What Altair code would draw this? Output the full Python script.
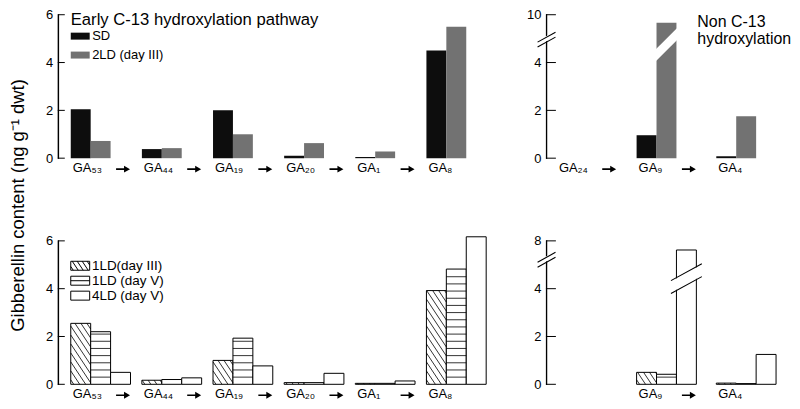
import altair as alt
import pandas as pd

FONT = "Liberation Sans"

# ---------------- data ----------------
early_groups = ["GA₅₃", "GA₄₄", "GA₁₉", "GA₂₀", "GA₁", "GA₈"]
late_groups = ["GA₂₄", "GA₉", "GA₄"]
late_bar_groups = ["GA₉", "GA₄"]

top_series = ["SD", "2LD (day III)"]
top_colors = ["#0d0d0d", "#727272"]
bottom_series = ["1LD(day III)", "1LD (day V)", "4LD (day V)"]

sd_early = [2.05, 0.38, 2.0, 0.10, 0.05, 4.5]
ld2_early = [0.72, 0.42, 1.0, 0.63, 0.28, 5.5]
sd_late = [0.96, 0.08]
ld2_late = [8.33, 1.75]

ld1_iii_early = [2.55, 0.17, 1.0, 0.07, 0.04, 3.92]
ld1_v_early = [2.2, 0.2, 1.93, 0.07, 0.04, 4.82]
ld4_v_early = [0.5, 0.27, 0.77, 0.46, 0.14, 6.17]
ld1_iii_late = [0.5, 0.05]
ld1_v_late = [0.42, 0.03]
ld4_v_late = [6.6, 1.25]

left_ticks = [0, 2, 4, 6]
top_right_ticks = [0, 2, 4, 10]
bottom_right_ticks = [0, 2, 4, 8]
top_right_domain = [0, 5, 10]        # broken axis
bottom_right_domain = [0, 5.25, 8]   # broken axis
top_right_axis_break = [5.0]
bottom_right_axis_break = [5.25]
top_right_bar_break = [4.75]
bottom_right_bar_break = [4.42]
axis_center = [3.0]                  # value at the vertical middle of every panel

arrows_early = ["GA₅₃", "GA₄₄", "GA₁₉", "GA₂₀", "GA₁"]
arrows_top_late = ["GA₂₄", "GA₉"]
arrows_bottom_late = ["GA₉"]

top_title = "Early C-13 hydroxylation pathway"
right_title = ["Non C-13", "hydroxylation"]
y_title = "Gibberellin content (ng g⁻¹ dwt)"

# ---------------- layout / style ----------------
H = 144
W_L, W_R = 443, 242
PX = 24.0      # px per data unit in linear part (hatch tile sizing)
BAR_W = 20.0
ARROW = "M-6.5,-0.85L1.5,-0.85L1.5,-3.5L7.5,0L1.5,3.5L1.5,0.85L-6.5,0.85Z"
AXIS_LINE = "M0,-72.5L1.3,-72.5L1.3,72.5L0,72.5Z"


def long_df(groups, series, arrays):
    rows = []
    for s, vals in zip(series, arrays):
        for g, v in zip(groups, vals):
            rows.append({"group": g, "series": s, "value": v})
    return pd.DataFrame(rows)


def hatch_path(w, h, kind, d=6.0, slope=1.5, sh=7.2):
    hw, hh = w / 2.0, h / 2.0
    parts = []
    if kind == "diag":
        c = -hw - hh / slope + d / 2
        while c < hw + hh / slope:
            x0 = max(-hw, c - hh / slope)
            x1 = min(hw, c + hh / slope)
            if x1 - x0 > 0.4:
                parts.append(f"M{x0:.2f},{slope*(x0-c):.2f}L{x1:.2f},{slope*(x1-c):.2f}")
            c += d
    else:
        y = hh - sh
        while y > -hh + 1.0:
            parts.append(f"M{-hw:.2f},{y:.2f}L{hw:.2f},{y:.2f}")
            y -= sh
    return "".join(parts)


def hatch_df(df):
    rows = []
    kinds = {bottom_series[0]: "diag", bottom_series[1]: "horiz"}
    for _, r in df.iterrows():
        if r["series"] in kinds:
            p = hatch_path(BAR_W, r["value"] * PX, kinds[r["series"]])
            if p:
                rows.append({"group": r["group"], "series": r["series"],
                             "mid": r["value"] / 2.0, "path": p})
    return pd.DataFrame(rows)


def x_enc(groups, pi, po, hide=None):
    ax = dict(title=None, domain=False, ticks=False, tickSize=0, labelAngle=0,
              labelAlign="left", labelOffset=-28, labelPadding=3, labelFontSize=13,
              labelColor="black", labelFont=FONT)
    if hide:
        ax["labelExpr"] = f"datum.value == '{hide}' ? '' : datum.label"
    return alt.X("group:N", scale=alt.Scale(domain=groups, paddingInner=pi, paddingOuter=po),
                 axis=alt.Axis(**ax))


def xo_enc(domain):
    return alt.XOffset("series:N", scale=alt.Scale(domain=domain, paddingInner=0, paddingOuter=0))


def y_axis(ticks, title=False):
    kw = dict(values=ticks, grid=False, ticks=False, tickSize=0, domain=True,
              domainColor="black", domainWidth=1, domainOpacity=1,
              labelFontSize=13, labelPadding=5, labelColor="black", labelFont=FONT)
    if title:
        kw.update(title=y_title, titleX=-40, titleY=-36, titleAngle=270, titleAlign="center",
                  titleBaseline="middle", titleFontSize=18.5, titleFontWeight="normal",
                  titleColor="black", titleFont=FONT)
    else:
        kw["title"] = None
    return alt.Axis(**kw)


class Panel:
    def __init__(self, X, XO, ys, yax):
        self.X, self.XO, self.ys, self.yax = X, XO, ys, yax

    def Y(self, field):
        return alt.Y(field, scale=self.ys, axis=self.yax)


def axis_line_layer(p):
    return alt.Chart(pd.DataFrame({"value": axis_center})).mark_point(
        shape=AXIS_LINE, size=4, filled=True, color="black", strokeWidth=0, opacity=1).encode(
        x=alt.value(0), y=p.Y("value:Q"))


def tick_layer(p, ticks, length):
    return alt.Chart(pd.DataFrame({"value": ticks})).mark_rule(color="black", strokeWidth=1).encode(
        y=p.Y("value:Q"), x=alt.value(0), x2=alt.value(length))


def arrow_layer(p, groups):
    return alt.Chart(pd.DataFrame({"group": groups})).mark_point(
        shape=ARROW, size=4, filled=True, color="black", opacity=1, xOffset=22).encode(
        x=p.X, y=alt.value(H + 11))


AXIS_BREAK_BAND = "M-6.5,3.6L6.5,-3.6"
AXIS_BREAK_LINES = "M-9,3.5L9,-6.5M-9,8.5L9,-1.5"


def axis_break_layers(p, vals):
    d = pd.DataFrame({"value": vals})
    band = alt.Chart(d).mark_point(shape=AXIS_BREAK_BAND, size=4, filled=False, color="white",
                                   strokeWidth=4.5, opacity=1).encode(
        x=alt.value(0.6), y=p.Y("value:Q"))
    lines = alt.Chart(d).mark_point(shape=AXIS_BREAK_LINES, size=4, filled=False, color="black",
                                    strokeWidth=1.1, opacity=1).encode(
        x=alt.value(0.6), y=p.Y("value:Q"))
    return [band, lines]


# ---------------- top-left ----------------
top_slots = top_series + ["_"]
df_tl = long_df(early_groups, top_series, [sd_early, ld2_early])
X_L = x_enc(early_groups, 0.16, 0.182)
p_tl = Panel(X_L, xo_enc(top_slots), alt.Scale(domain=[0, 6], nice=False, zero=False),
             y_axis(left_ticks))

bars_tl = alt.Chart(df_tl).mark_bar().encode(
    x=p_tl.X, xOffset=p_tl.XO, y=p_tl.Y("value:Q"),
    fill=alt.Fill("series:N", scale=alt.Scale(domain=top_series, range=top_colors),
                  legend=alt.Legend(orient="none", legendX=13, legendY=15, title=None,
                                    symbolType="M-9.5,-3.5L9.5,-3.5L9.5,3.5L-9.5,3.5Z",
                                    symbolSize=4, symbolStrokeWidth=0, symbolOffset=3,
                                    labelOffset=5.5, labelFontSize=13, labelFont=FONT,
                                    labelColor="black", rowPadding=5)))
title_tl = alt.Chart(pd.DataFrame({"t": [top_title]})).mark_text(
    align="left", baseline="middle", fontSize=16.7, color="black").encode(
    text="t:N", x=alt.value(13), y=alt.value(5))

tl = alt.layer(bars_tl, tick_layer(p_tl, left_ticks, 7), title_tl,
               arrow_layer(p_tl, arrows_early), axis_line_layer(p_tl)).properties(
    width=W_L, height=H)

# ---------------- top-right ----------------
df_tr = long_df(late_bar_groups, top_series, [sd_late, ld2_late])
p_tr = Panel(x_enc(late_groups, 0.25, 0.1375), xo_enc(top_slots),
             alt.Scale(domain=top_right_domain, range=[H, 24, 0], nice=False, zero=False),
             y_axis(top_right_ticks))

bars_tr = alt.Chart(df_tr).mark_bar().encode(
    x=p_tr.X, xOffset=p_tr.XO, y=p_tr.Y("value:Q"),
    fill=alt.Fill("series:N", scale=alt.Scale(domain=top_series, range=top_colors), legend=None))
bar_break_tr = alt.Chart(pd.DataFrame({"group": ["GA₉"], "series": [top_series[1]],
                                       "value": top_right_bar_break})).mark_point(
    shape="M-16,16L16,-16", size=4, filled=False, color="white", strokeWidth=8.5, opacity=1).encode(
    x=p_tr.X, xOffset=p_tr.XO, y=p_tr.Y("value:Q"))
title_tr = alt.Chart(pd.DataFrame({"t": ["x"]})).mark_text(
    text=right_title, align="left", baseline="top", fontSize=16, lineHeight=17,
    color="black").encode(x=alt.value(152), y=alt.value(-1))

tr = alt.layer(bars_tr, bar_break_tr, tick_layer(p_tr, top_right_ticks, 10),
               axis_line_layer(p_tr), *axis_break_layers(p_tr, top_right_axis_break),
               title_tr, arrow_layer(p_tr, arrows_top_late)).properties(width=W_R, height=H)

# ---------------- bottom-left ----------------
df_bl = long_df(early_groups, bottom_series, [ld1_iii_early, ld1_v_early, ld4_v_early])
XO_B = xo_enc(bottom_series)
p_bl = Panel(X_L, XO_B, alt.Scale(domain=[0, 6], nice=False, zero=False),
             y_axis(left_ticks, title=True))

bars_bl = alt.Chart(df_bl).mark_bar(fill="white", stroke="black", strokeWidth=1).encode(
    x=p_bl.X, xOffset=p_bl.XO, y=p_bl.Y("value:Q"))
hatch_bl = alt.Chart(hatch_df(df_bl)).mark_point(
    size=4, filled=False, color="black", strokeWidth=0.8, opacity=1).encode(
    x=p_bl.X, xOffset=p_bl.XO, y=p_bl.Y("mid:Q"),
    shape=alt.Shape("path:N", scale=None))

SW = "M-9.5,-4.5L9.5,-4.5L9.5,4.5L-9.5,4.5Z"
legend_paths = [SW + hatch_path(19, 9, "diag", d=5.0, slope=1.5),
                SW + hatch_path(19, 9, "horiz", sh=4.5),
                SW]
legend_bl = alt.Chart(df_bl).mark_point(
    filled=False, color="black", strokeWidth=1, opacity=0).encode(
    x=p_bl.X, xOffset=p_bl.XO, y=p_bl.Y("value:Q"),
    shape=alt.Shape("series:N", scale=alt.Scale(domain=bottom_series, range=legend_paths),
                    legend=alt.Legend(orient="none", legendX=13, legendY=18.25, title=None,
                                      symbolSize=4, symbolStrokeWidth=1,
                                      symbolStrokeColor="black", symbolOpacity=1,
                                      symbolOffset=2.75, labelOffset=5, labelFontSize=13.5,
                                      labelFont=FONT, labelColor="black", rowPadding=0)))

bl = alt.layer(bars_bl, hatch_bl, legend_bl, tick_layer(p_bl, left_ticks, 7),
               arrow_layer(p_bl, arrows_early), axis_line_layer(p_bl)).resolve_scale(
    shape="independent").properties(width=W_L, height=H)

# ---------------- bottom-right ----------------
df_br = long_df(late_bar_groups, bottom_series, [ld1_iii_late, ld1_v_late, ld4_v_late])
p_br = Panel(x_enc(late_groups, 0.25, 0.1375, hide="GA₂₄"), XO_B,
             alt.Scale(domain=bottom_right_domain, range=[H, 18, 0], nice=False, zero=False),
             y_axis(bottom_right_ticks))

bars_br = alt.Chart(df_br).mark_bar(fill="white", stroke="black", strokeWidth=1).encode(
    x=p_br.X, xOffset=p_br.XO, y=p_br.Y("value:Q"))
hatch_br = alt.Chart(hatch_df(df_br)).mark_point(
    size=4, filled=False, color="black", strokeWidth=0.8, opacity=1).encode(
    x=p_br.X, xOffset=p_br.XO, y=p_br.Y("mid:Q"),
    shape=alt.Shape("path:N", scale=None))
bb_df = pd.DataFrame({"group": ["GA₉"], "series": [bottom_series[2]],
                      "value": bottom_right_bar_break})
bar_break_br_band = alt.Chart(bb_df).mark_point(
    shape="M-15.5,8.5L15.5,-8.5", size=4, filled=False, color="white", strokeWidth=10,
    opacity=1).encode(x=p_br.X, xOffset=p_br.XO, y=p_br.Y("value:Q"))
bar_break_br_lines = alt.Chart(bb_df).mark_point(
    shape="M-15.5,2L15.5,-15M-15.5,15L15.5,-2", size=4, filled=False, color="black",
    strokeWidth=1.1, opacity=1).encode(x=p_br.X, xOffset=p_br.XO, y=p_br.Y("value:Q"))

br = alt.layer(bars_br, hatch_br, bar_break_br_band, bar_break_br_lines,
               tick_layer(p_br, bottom_right_ticks, 10), axis_line_layer(p_br),
               *axis_break_layers(p_br, bottom_right_axis_break),
               arrow_layer(p_br, arrows_bottom_late)).properties(width=W_R, height=H)

chart = alt.concat(tl, tr, bl, br, columns=2, spacing={"row": 83, "column": 47},
                   bounds="flush").resolve_scale(
    x="independent", y="independent", xOffset="independent", fill="independent",
    shape="independent").properties(
    padding={"left": 0, "right": 0, "top": 0, "bottom": 0}).configure_view(
    stroke=None).configure_text(font=FONT).configure_axis(labelFont=FONT, titleFont=FONT)

chart.save("out.html", embed_options={"renderer": "svg", "actions": False})
